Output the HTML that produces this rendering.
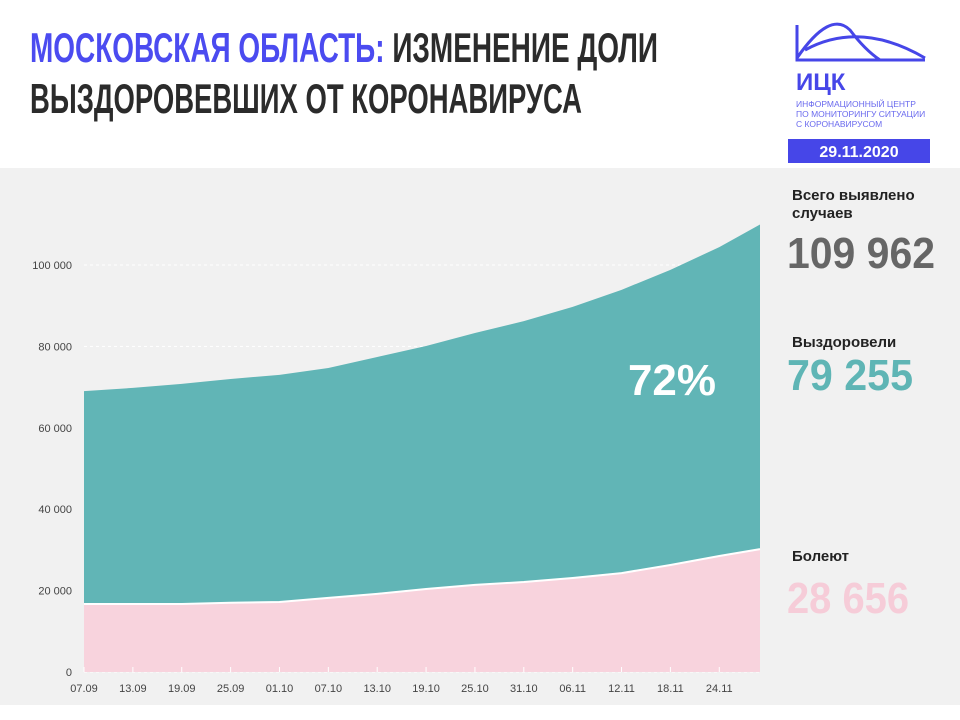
<!DOCTYPE html>
<html><head><meta charset="utf-8"><style>
body{margin:0;width:960px;height:720px;background:#fff;overflow:hidden}
svg{display:block;font-family:"Liberation Sans",sans-serif}
</style></head><body>
<svg width="960" height="720">
<rect x="0" y="0" width="960" height="720" fill="#fff"/>
<rect x="0" y="168" width="960" height="537" fill="#f1f1f1"/>
<text x="30" y="62" font-size="42" font-weight="bold" textLength="628" lengthAdjust="spacingAndGlyphs"><tspan fill="#4b4bf0">МОСКОВСКАЯ ОБЛАСТЬ:</tspan><tspan fill="#2b2b2b"> ИЗМЕНЕНИЕ ДОЛИ</tspan></text>
<text x="30" y="113" font-size="42" font-weight="bold" fill="#2b2b2b" textLength="552" lengthAdjust="spacingAndGlyphs">ВЫЗДОРОВЕВШИХ ОТ КОРОНАВИРУСА</text>
<g fill="none" stroke="#4646e8" stroke-width="3">
<path d="M797 25 V60 H925"/><path d="M797 58 Q830 10 850 30 Q865 50 880 60"/><path d="M805 50 Q860 20 925 58"/>
</g>
<text x="796" y="90" font-size="24" font-weight="bold" fill="#4646e8">ИЦК</text>
<text x="796" y="107" font-size="8.5" fill="#6a6aee">ИНФОРМАЦИОННЫЙ ЦЕНТР</text>
<text x="796" y="117" font-size="8.5" fill="#6a6aee">ПО МОНИТОРИНГУ СИТУАЦИИ</text>
<text x="796" y="127" font-size="8.5" fill="#6a6aee">С КОРОНАВИРУСОМ</text>
<rect x="788" y="139" width="142" height="24" fill="#4646e8"/>
<text x="859" y="157" font-size="16" font-weight="bold" fill="#fff" text-anchor="middle">29.11.2020</text>
<g id="chart"></g>
<text x="792" y="200" font-size="15" font-weight="bold" fill="#222">Всего выявлено</text>
<text x="792" y="218" font-size="15" font-weight="bold" fill="#222">случаев</text>
<text x="787" y="268" font-size="44" font-weight="bold" fill="#666" textLength="148" lengthAdjust="spacingAndGlyphs">109 962</text>
<text x="792" y="347" font-size="15" font-weight="bold" fill="#222">Выздоровели</text>
<text x="787" y="390" font-size="44" font-weight="bold" fill="#5fb5b5" textLength="126" lengthAdjust="spacingAndGlyphs">79 255</text>
<text x="792" y="561" font-size="15" font-weight="bold" fill="#222">Болеют</text>
<text x="787" y="613" font-size="44" font-weight="bold" fill="#f6ccd8" textLength="122" lengthAdjust="spacingAndGlyphs">28 656</text>
</svg>
<script>
const dayOffsets=[0,6,12,18,24,30,36,42,48,54,60,66,72,78,83];
const tickLabels=["07.09","13.09","19.09","25.09","01.10","07.10","13.10","19.10","25.10","31.10","06.11","12.11","18.11","24.11"];
const totalCases=[69000,69800,70800,72000,73000,74700,77400,80100,83300,86200,89700,93900,98800,104400,109962];
const activeCases=[16700,16700,16700,17000,17200,18200,19200,20400,21400,22100,23100,24300,26300,28500,30200];
const yTicks=[0,20000,40000,60000,80000,100000];
const NS="http://www.w3.org/2000/svg";
const g=document.getElementById('chart');
const X=d=>84+d*676/83;
const Y=v=>672-v*407/100000;
function mk(t,a){const e=document.createElementNS(NS,t);for(const k in a)e.setAttribute(k,a[k]);g.appendChild(e);return e;}
yTicks.forEach(v=>{
 const l=mk('line',{x1:84,x2:760,y1:Y(v),y2:Y(v),stroke:'#fff','stroke-dasharray':'3 3'});
 
 
 const t=mk('text',{x:72,y:Y(v)+4,'font-size':11,fill:'#444','text-anchor':'end'});
 t.textContent=v===0?'0':(v/1000)+' 000';
 
 
});
const topPath=dayOffsets.map((d,i)=>X(d)+','+Y(totalCases[i])).join(' L');
const midPts=dayOffsets.map((d,i)=>X(d)+','+Y(activeCases[i]));
const rec=mk('path',{d:'M'+topPath+' L'+midPts.slice().reverse().join(' L')+' Z',fill:'#61b5b6'});


const act=mk('path',{d:'M'+midPts.join(' L')+' L'+X(83)+','+Y(0)+' L'+X(0)+','+Y(0)+' Z',fill:'#f8d3dd'});


const bl=mk('polyline',{points:midPts.join(' '),fill:'none',stroke:'#fff','stroke-width':2});


tickLabels.forEach((s,i)=>{
 const tk=mk('line',{x1:X(dayOffsets[i]),x2:X(dayOffsets[i]),y1:Y(0),y2:Y(0)-5,stroke:'#fff'});
 
 
 const t=mk('text',{x:X(dayOffsets[i]),y:692,'font-size':11,fill:'#444','text-anchor':'middle'});
 t.textContent=s;
 
 
});
const p=mk('text',{x:672,y:395,'font-size':44,'font-weight':'bold',fill:'#fff','text-anchor':'middle'});
p.textContent='72%';


</script>
</body></html>
